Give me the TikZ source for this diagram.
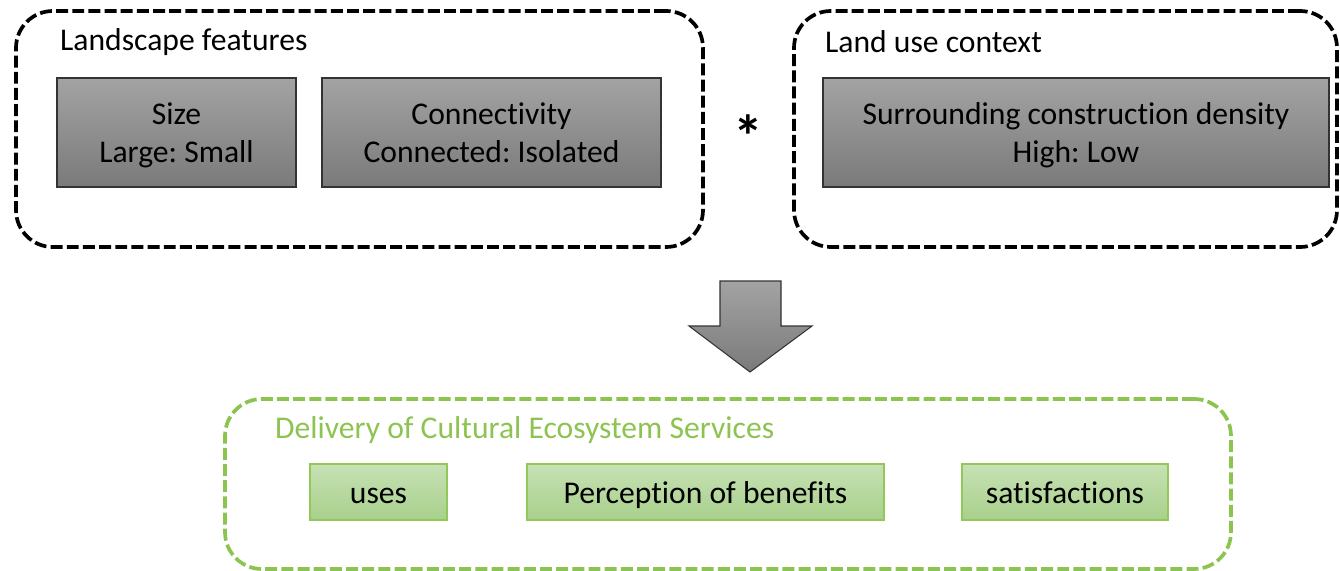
\documentclass[tikz,border=0pt]{standalone}
\usepackage{fontspec}
\setmainfont{Carlito}[Ligatures=CommonOff]
\usepackage{xcolor}
\usetikzlibrary{fit,positioning}

\definecolor{boxtop}{RGB}{163,163,163}
\definecolor{boxbot}{RGB}{122,122,122}
\definecolor{cesline}{RGB}{141,195,80}
\definecolor{cestop}{RGB}{199,225,180}
\definecolor{cesbot}{RGB}{168,208,140}
\definecolor{cesedge}{RGB}{146,200,88}

\begin{document}
\frenchspacing
\begin{tikzpicture}[x=0.02cm,y=-0.02cm,font=\fontsize{18}{21.5}\selectfont]
				\tikzset{group/.style={draw=black,line width=2.1pt,dash pattern=on 6.8pt off 2.4pt,rounded corners=21pt,inner sep=0pt}}
				\tikzset{factor/.style={draw=black!80,semithick,top color=boxtop,bottom color=boxbot,inner sep=0pt}}
				\tikzset{service/.style={draw=cesedge,semithick,top color=cestop,bottom color=cesbot,inner sep=0pt}}
				\tikzset{inside/.style={label={[align=center,yshift=-2pt]center:#1}}}

				\useasboundingbox (0,0) rectangle (1340,571);

				% Landscape features
				\node[fit={(16,11) (703,247)}, group] (lf) {};
				\node[anchor=west] (lflabel) at (54,42) {Landscape features};
				\node[fit={(57,78) (296,187)}, factor, inside={\strut Size\\\strut Large: Small}] (size) {};
				\node[fit={(322,78) (661,187)}, factor, inside={\strut Connectivity\\\strut Connected: Isolated}] (conn) {};

				\node (times) at (748,136) {\fontsize{34}{34}\selectfont\textbf{*}};

				% Land use context
				\node[fit={(794,11) (1337,247)}, group] (luc) {};
				\node[anchor=west] (luclabel) at (819,42) {Land use context};
				\node[fit={(823,78) (1329,187)}, factor, inside={\strut Surrounding construction density\\\strut High: Low}] (dens) {};

				% arrow
				\draw[draw=black!80,semithick,top color=boxtop,bottom color=boxbot]
					(720,281) -- (781,281) -- (781,326) -- (812,326) -- (750,372) -- (689,326) -- (720,326) -- cycle;

				% Delivery of CES
				\node[fit={(225,399) (1231,569)}, group, draw=cesline] (ces) {};
				\node[anchor=west, text=cesline] (ceslabel) at (269,430) {Delivery of Cultural Ecosystem Services};
				\node[fit={(310,464) (447,520)}, service, inside={\strut uses}] (uses) {};
				\node[fit={(527,464) (884,520)}, service, inside={\strut Perception of benefits}] (perc) {};
				\node[fit={(962,464) (1168,520)}, service, inside={\strut satisfactions}] (satis) {};

			\end{tikzpicture}
\end{document}
